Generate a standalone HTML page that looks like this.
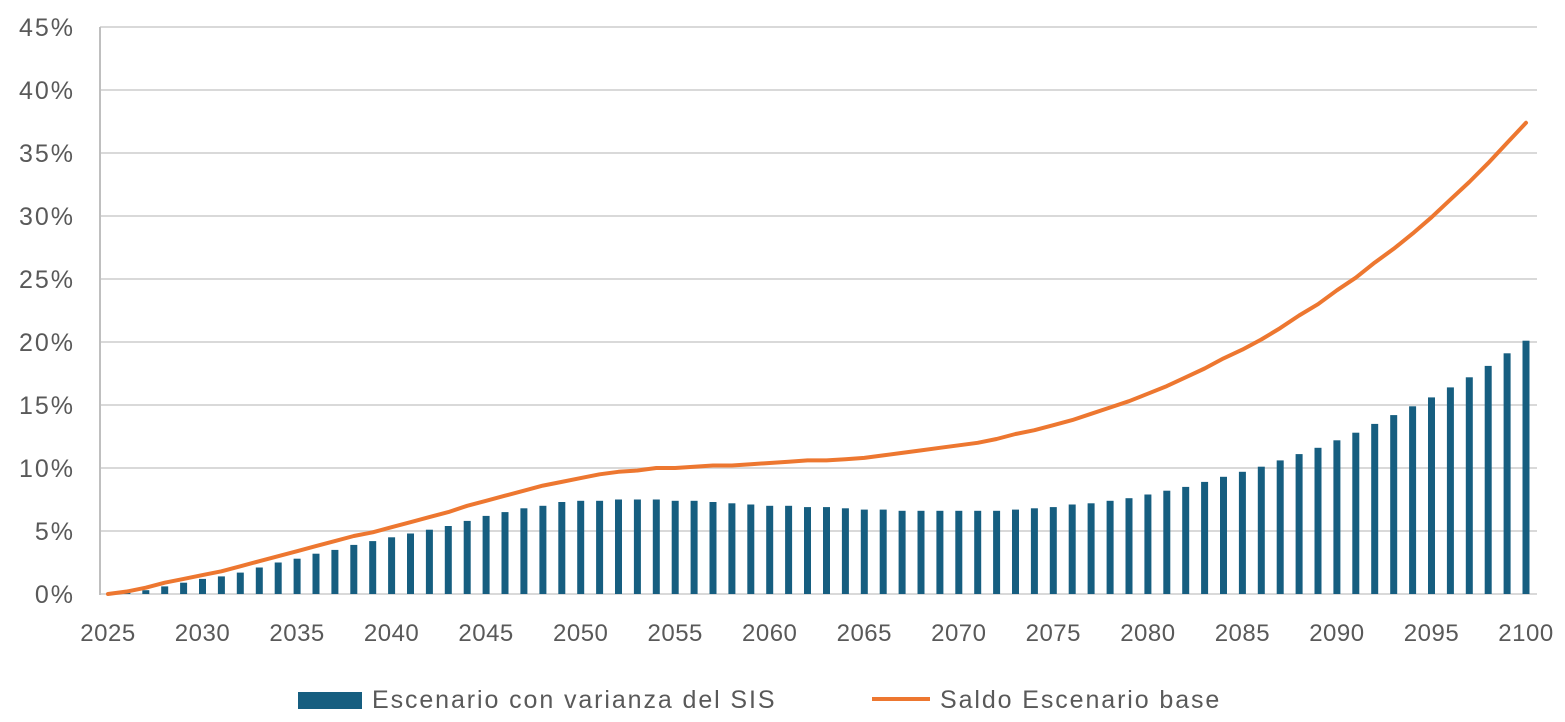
<!DOCTYPE html>
<html><head><meta charset="utf-8"><style>
html,body{margin:0;padding:0;background:#fff;}
svg{display:block;font-family:"Liberation Sans",sans-serif;}
</style></head><body>
<svg id="c" width="1565" height="722" xmlns="http://www.w3.org/2000/svg"></svg>
<script>
const bars=[0,0.1,0.3,0.6,0.9,1.2,1.4,1.7,2.1,2.5,2.8,3.2,3.5,3.9,4.2,4.5,4.8,5.1,5.4,5.8,6.2,6.5,6.8,7.0,7.3,7.4,7.4,7.5,7.5,7.5,7.4,7.4,7.3,7.2,7.1,7.0,7.0,6.9,6.9,6.8,6.7,6.7,6.6,6.6,6.6,6.6,6.6,6.6,6.7,6.8,6.9,7.1,7.2,7.4,7.6,7.9,8.2,8.5,8.9,9.3,9.7,10.1,10.6,11.1,11.6,12.2,12.8,13.5,14.2,14.9,15.6,16.4,17.2,18.1,19.1,20.1];
const line=[0,0.2,0.5,0.9,1.2,1.5,1.8,2.2,2.6,3.0,3.4,3.8,4.2,4.6,4.9,5.3,5.7,6.1,6.5,7.0,7.4,7.8,8.2,8.6,8.9,9.2,9.5,9.7,9.8,10.0,10.0,10.1,10.2,10.2,10.3,10.4,10.5,10.6,10.6,10.7,10.8,11.0,11.2,11.4,11.6,11.8,12.0,12.3,12.7,13.0,13.4,13.8,14.3,14.8,15.3,15.9,16.5,17.2,17.9,18.7,19.4,20.2,21.1,22.1,23.0,24.1,25.1,26.3,27.4,28.6,29.9,31.3,32.7,34.2,35.8,37.4];
const y0=594,ys=12.6,x0=108,xs=(1526-108)/75;
let s='';
for(let i=0;i<=9;i++){const y=y0-i*63;s+=`<line x1="100" x2="1537" y1="${y}" y2="${y}" stroke="#d9d9d9" stroke-width="2"/>`;
s+=`<text x="75" y="${y+9}" font-size="25" letter-spacing="2" fill="#595959" text-anchor="end">${i*5}%</text>`;}
s+=`<line x1="100" x2="100" y1="27" y2="595" stroke="#bfbfbf" stroke-width="2"/>`;
bars.forEach((v,i)=>{const x=x0+i*xs;const h=v*ys;if(h>0)s+=`<rect x="${(x-3.5).toFixed(1)}" y="${(y0-h).toFixed(1)}" width="7" height="${h.toFixed(1)}" fill="#165e80"/>`;});
s+=`<polyline fill="none" stroke="#ed7730" stroke-width="4" stroke-linejoin="round" stroke-linecap="round" points="${line.map((v,i)=>(x0+i*xs).toFixed(1)+','+(y0-v*ys).toFixed(1)).join(' ')}"/>`;
for(let yr=2025;yr<=2100;yr+=5){const x=x0+(yr-2025)*xs;s+=`<text x="${x.toFixed(1)}" y="641" font-size="24" letter-spacing="0.5" fill="#595959" text-anchor="middle">${yr}</text>`;}
s+=`<rect x="298" y="692" width="64" height="17" fill="#165e80"/>`;
s+=`<text x="372" y="708" font-size="25" letter-spacing="1.9" fill="#595959">Escenario con varianza del SIS</text>`;
s+=`<line x1="872" x2="930" y1="699" y2="699" stroke="#ed7730" stroke-width="4"/>`;
s+=`<text x="940" y="708" font-size="25" letter-spacing="1.9" fill="#595959">Saldo Escenario base</text>`;
document.getElementById('c').innerHTML=s;
</script>
</body></html>
